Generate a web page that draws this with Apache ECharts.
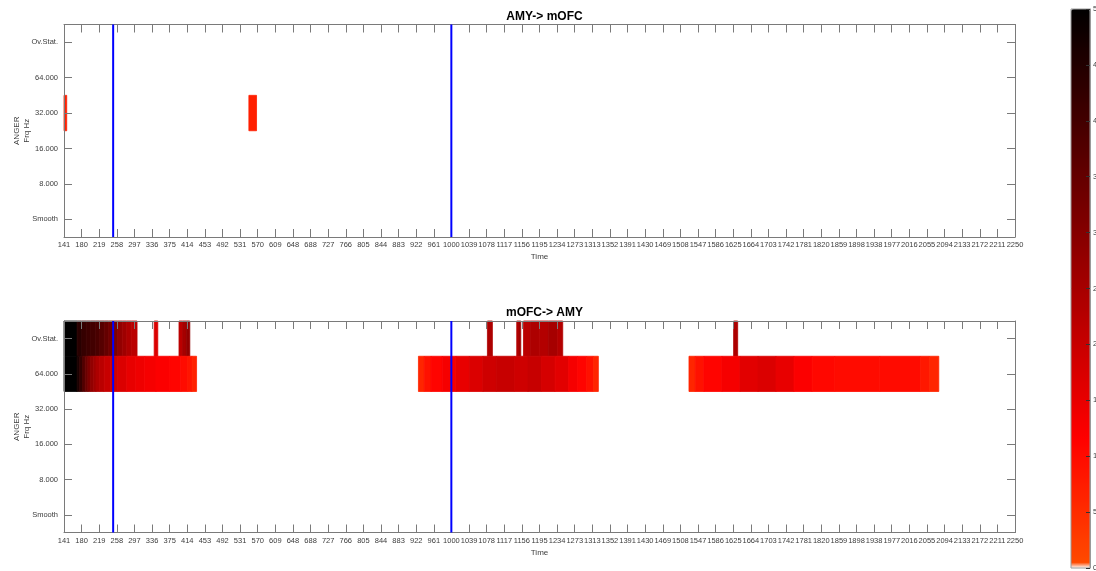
<!DOCTYPE html>
<html>
<head>
<meta charset="utf-8">
<script src="https://cdn.jsdelivr.net/npm/echarts@6/dist/echarts.min.js"></script>
<style>html,body{margin:0;padding:0;background:#fff;}#main{width:1096px;height:571px;}</style>
</head>
<body>
<div id="main"></div>
<script>
// ---------- data ----------
const rowLabels = ['Smooth', '8.000', '16.000', '32.000', '64.000', 'Ov.Stat.'];
const tickLabels = ['141','180','219','258','297','336','375','414','453','492','531','570','609','648','688','727','766','805','844','883','922','961','1000','1039','1078','1117','1156','1195','1234','1273','1313','1352','1391','1430','1469','1508','1547','1586','1625','1664','1703','1742','1781','1820','1859','1898','1938','1977','2016','2055','2094','2133','2172','2211','2250'];
const timeMin = 141, timeMax = 2250;
const eventTimes = [250, 1000];
const titles = ['AMY-> mOFC', 'mOFC-> AMY'];
const yName = 'ANGER\nFrq Hz';
const xName = 'Time';
const cbarMin = 0, cbarMax = 50;

// segments: [tStart, tEnd, value], per row (row index into rowLabels)
const top32 = [[141,147,7],[551,568,7]];

const botOv = [
  [141,170,50],[170,180,44],[180,190,42],[190,200,41],[200,210,40],[210,220,39],
  [220,230,37],[230,240,35],[240,250,33],[250,260,31],[260,270,28],[270,280,26],
  [280,290,24],[290,303,22],
  [341,349,17],
  [396,404,22],[404,412,25],[412,420,28],
  [1080,1091,24],
  [1145,1150,23],[1150,1154,26],
  [1160,1175,22],[1175,1195,24],[1195,1215,23],[1215,1235,25],[1235,1247,23],
  [1626,1635,24]
];
const bot64 = [
  [141,170,50],[170,176,46],[176,182,42],[182,188,38],[188,194,34],[194,200,31],
  [200,206,28],[206,212,26],[212,220,24],[220,230,22],[230,245,20],[245,260,18.5],
  [260,280,17],[280,300,15],[300,320,14],[320,345,13],[345,375,12],[375,400,11],
  [400,415,10],[415,425,8.5],[425,435,6.5],
  [927,940,6],[940,955,9],[955,980,11],[980,1010,13],[1010,1040,15],[1040,1070,17],
  [1070,1100,19],[1100,1140,20],[1140,1170,19],[1170,1200,20],[1200,1230,18],
  [1230,1260,16],[1260,1280,13],[1280,1300,11],[1300,1315,9],[1315,1326,6],
  [1527,1541,6],[1541,1560,9],[1560,1600,11],[1600,1640,13],[1640,1680,16],
  [1680,1720,17],[1720,1760,15],[1760,1800,12],[1800,1850,10.5],[1850,1950,10],
  [1950,2040,10],[2040,2060,8],[2060,2081,6]
];

function rowData(segs, row) { return segs.map(s => [s[0], s[1], row, s[2]]); }
const topData = rowData(top32, 3);
const botData = rowData(botOv, 5).concat(rowData(bot64, 4));

// ---------- colormap ----------
function cmap(v) {
  let r, g;
  if (v <= 11.6) { r = 255; g = Math.round(77 * (1 - v / 11.6)); }
  else { r = Math.round(255 * (50 - v) / 38.4); g = 0; }
  return 'rgb(' + r + ',' + g + ',0)';
}
const cmapColors = [];
for (let i = 0; i <= 250; i++) cmapColors.push(i === 0 ? '#ffffff' : cmap(i * 0.2));

// ---------- styles ----------
const FONT = 'Liberation Sans';
const axisGray = '#7a7a7a';
const labelGray = '#3c3c3c';
const grids = [
  { left: 64, top: 24.5, width: 951, height: 212.5 },
  { left: 64, top: 321, width: 951, height: 211.5 }
];

function renderCell(params, api) {
  const row = api.value(2);
  const p0 = api.coord([api.value(0), row]);
  const p1 = api.coord([api.value(1), row]);
  const h = api.size([0, 1])[1];
  const c = cmap(api.value(3));
  return {
    type: 'rect',
    shape: { x: p0[0], y: p0[1] - h / 2, width: p1[0] - p0[0], height: h },
    style: { fill: c, stroke: c, lineWidth: 0.8 }
  };
}
function renderEvent(params, api) {
  const x = api.coord([api.value(0), 0])[0];
  const cs = params.coordSys;
  return {
    type: 'line',
    shape: { x1: x, y1: cs.y, x2: x, y2: cs.y + cs.height },
    style: { stroke: '#0000ff', lineWidth: 2 }
  };
}

const xAxes = [], yAxes = [], series = [], titleOpts = [];
grids.forEach((g, gi) => {
  xAxes.push({
    type: 'category', gridIndex: gi, position: 'bottom', data: tickLabels, boundaryGap: false,
    name: xName, nameLocation: 'middle', nameGap: 16, nameMoveOverlap: false,
    nameTextStyle: { fontFamily: FONT, fontSize: 8, color: labelGray },
    axisLine: { onZero: false, lineStyle: { color: axisGray, width: 1 } },
    axisTick: { show: true, inside: true, length: 8, interval: 0, lineStyle: { color: axisGray } },
    axisLabel: { interval: 0, fontFamily: FONT, fontSize: 7.5, color: labelGray, margin: 4, hideOverlap: false },
    splitLine: { show: false }, z: 5
  });
  xAxes.push({
    type: 'category', gridIndex: gi, position: 'top', data: tickLabels, boundaryGap: false,
    axisLine: { onZero: false, lineStyle: { color: axisGray, width: 1 } },
    axisTick: { show: true, inside: true, length: 8, interval: 0, lineStyle: { color: axisGray } },
    axisLabel: { show: false }, splitLine: { show: false }, z: 5
  });
  xAxes.push({
    type: 'value', gridIndex: gi, min: timeMin, max: timeMax, show: false,
    axisLine: { onZero: false }, splitLine: { show: false }
  });
  yAxes.push({
    type: 'category', gridIndex: gi, position: 'left', data: rowLabels,
    name: yName, nameLocation: 'middle', nameGap: 32, nameRotate: 90, nameMoveOverlap: false,
    nameTextStyle: { fontFamily: FONT, fontSize: 8, color: labelGray, lineHeight: 10 },
    axisLine: { onZero: false, lineStyle: { color: axisGray, width: 1 } },
    axisTick: { show: true, inside: true, length: 8, alignWithLabel: true, lineStyle: { color: axisGray } },
    axisLabel: { fontFamily: FONT, fontSize: 7.5, color: labelGray, margin: 6 },
    splitLine: { show: false }, z: 5
  });
  yAxes.push({
    type: 'category', gridIndex: gi, position: 'right', data: rowLabels,
    axisLine: { onZero: false, lineStyle: { color: axisGray, width: 1 } },
    axisTick: { show: true, inside: true, length: 8, alignWithLabel: true, lineStyle: { color: axisGray } },
    axisLabel: { show: false }, splitLine: { show: false }, z: 5
  });
  titleOpts.push({
    text: titles[gi], left: g.left + g.width / 2, textAlign: 'center',
    top: g.top - 19,
    textStyle: { fontFamily: FONT, fontSize: 12, fontWeight: 'bold', color: '#000' }
  });
});
grids.forEach((g, gi) => {
  series.push({
    type: 'custom', name: titles[gi], xAxisIndex: gi * 3 + 2, yAxisIndex: gi * 2,
    renderItem: renderCell, encode: { x: [0, 1], y: 2 },
    data: gi === 0 ? topData : botData, silent: true, z: 2
  });
});
grids.forEach((g, gi) => {
  series.push({
    type: 'custom', name: 'events' + gi, xAxisIndex: gi * 3 + 2, yAxisIndex: gi * 2,
    renderItem: renderEvent, encode: { x: 0 },
    data: eventTimes.map(t => [t]), silent: true, z: 6
  });
});

// colorbar grid (axis + border only; gradient drawn by visualMap)
const cbGrid = { left: 1071, top: 9, width: 19, height: 559, show: true, borderColor: '#9a9a9a', borderWidth: 1, backgroundColor: 'transparent', z: 5, outerBoundsMode: 'none', containLabel: false };
xAxes.push({ type: 'value', gridIndex: 2, min: 0, max: 1, show: false, axisLine: { onZero: false } });
yAxes.push({
  type: 'value', gridIndex: 2, position: 'right', min: cbarMin, max: cbarMax, interval: 5,
  axisLine: { show: true, onZero: false, lineStyle: { color: '#9a9a9a', width: 1 } },
  axisTick: { show: true, inside: true, length: 4, lineStyle: { color: '#333', width: 1 } },
  axisLabel: { fontFamily: FONT, fontSize: 7.5, color: labelGray, margin: 3 },
  splitLine: { show: false }, z: 10
});

const option = {
  animation: false,
  backgroundColor: '#ffffff',
  title: titleOpts,
  grid: grids.map(g => Object.assign({ show: false, outerBoundsMode: 'none', containLabel: false }, g)).concat([cbGrid]),
  xAxis: xAxes,
  yAxis: yAxes,
  visualMap: {
    type: 'continuous', min: cbarMin, max: cbarMax, seriesIndex: [],
    calculable: false, show: true, orient: 'vertical',
    left: 1071, top: 9, itemWidth: 19, itemHeight: 559, padding: 0,
    text: null, showLabel: false,
    inRange: { color: cmapColors },
    z: 1
  },
  series: series
};

const chart = echarts.init(document.getElementById('main'), null, { renderer: 'canvas' });
chart.setOption(option);
</script>
</body>
</html>
